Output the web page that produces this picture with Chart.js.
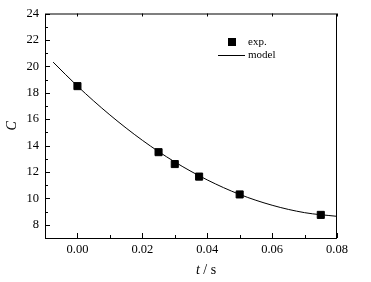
<!DOCTYPE html>
<html>
<head>
<meta charset="utf-8">
<script src="https://cdn.jsdelivr.net/npm/chart.js@4"></script>
<style>
  html, body { margin: 0; padding: 0; background: #fff; }
  #wrap { width: 371px; height: 282px; }
</style>
</head>
<body>
<div id="wrap"><canvas id="chart" width="371" height="282"></canvas></div>
<script>
// measured points (t in s, C)
const expT = [0.000, 0.025, 0.030, 0.0375, 0.050, 0.075];
const expC = [18.5, 13.5, 12.6, 11.65, 10.3, 8.75];

// model curve
const modelT = [-0.0075, 0.000, 0.010, 0.020, 0.030, 0.040, 0.050, 0.060, 0.070, 0.080];
const modelC = [20.32, 18.5, 16.32, 14.40, 12.76, 11.40, 10.30, 9.48, 8.92, 8.64];

const xTicks = [0.00, 0.02, 0.04, 0.06, 0.08];
const xMinor = [-0.01, 0.01, 0.03, 0.05, 0.07];
const yTicks = [8, 10, 12, 14, 16, 18, 20, 22, 24];
const yMinor = [7, 9, 11, 13, 15, 17, 19, 21, 23];

const serif = '"Liberation Serif", "DejaVu Serif", serif';

// frame, inward ticks, legend and x title
const framePlugin = {
    id: 'frame',
    afterDraw(chart) {
        const { ctx, chartArea: a, scales: { x, y } } = chart;
        ctx.save();
        ctx.strokeStyle = '#000';
        ctx.lineWidth = 1;
        ctx.strokeRect(a.left + 0.5, a.top + 0.5, a.right - a.left - 1, a.bottom - a.top);

        ctx.beginPath();
        xTicks.forEach(v => {
            const px = Math.round(x.getPixelForValue(v)) + 0.5;
            ctx.moveTo(px, a.bottom); ctx.lineTo(px, a.bottom - 5);
            ctx.moveTo(px, a.top); ctx.lineTo(px, a.top + 3);
        });
        xMinor.forEach(v => {
            const px = Math.round(x.getPixelForValue(v)) + 0.5;
            ctx.moveTo(px, a.bottom); ctx.lineTo(px, a.bottom - 3);
        });
        yTicks.forEach(v => {
            const py = Math.round(y.getPixelForValue(v)) + 0.5;
            ctx.moveTo(a.left, py); ctx.lineTo(a.left + 5, py);
        });
        yMinor.forEach(v => {
            const py = Math.round(y.getPixelForValue(v)) + 0.5;
            ctx.moveTo(a.left, py); ctx.lineTo(a.left + 3, py);
        });
        ctx.stroke();

        // legend
        ctx.fillStyle = '#000';
        ctx.fillRect(228, 38, 8, 8);
        ctx.beginPath();
        ctx.moveTo(218, 55.5); ctx.lineTo(245, 55.5);
        ctx.stroke();
        ctx.font = '11px ' + serif;
        ctx.textBaseline = 'middle';
        ctx.textAlign = 'left';
        ctx.fillText('exp.', 248, 42);
        ctx.fillText('model', 248, 55);

        // x axis title: italic t, upright "/ s"
        ctx.font = 'italic 14px ' + serif;
        const tW = ctx.measureText('t').width;
        ctx.font = '14px ' + serif;
        const rest = ' / s';
        const rW = ctx.measureText(rest).width;
        const start = 206 - (tW + rW) / 2;
        ctx.font = 'italic 14px ' + serif;
        ctx.fillText('t', start, 270);
        ctx.font = '14px ' + serif;
        ctx.fillText(rest, start + tW, 270);
        ctx.restore();
    }
};

const ctx = document.getElementById('chart').getContext('2d');
new Chart(ctx, {
    type: 'scatter',
    data: {
        datasets: [{
            label: 'exp.',
            data: expT.map((t, i) => ({ x: t, y: expC[i] })),
            pointStyle: 'rect',
            pointRadius: 5,
            backgroundColor: '#000',
            borderColor: '#000',
            borderWidth: 1,
            order: 1
        }, {
            label: 'model',
            data: modelT.map((t, i) => ({ x: t, y: modelC[i] })),
            showLine: true,
            pointRadius: 0,
            borderColor: '#000',
            borderWidth: 1,
            cubicInterpolationMode: 'monotone',
            order: 2
        }]
    },
    options: {
        responsive: false,
        animation: false,
        layout: { padding: { top: 12, right: 34, bottom: 0, left: 0 } },
        plugins: {
            legend: { display: false },
            tooltip: { enabled: false }
        },
        scales: {
            x: {
                type: 'linear',
                min: -0.01,
                max: 0.08,
                afterBuildTicks: s => { s.ticks = xTicks.map(v => ({ value: v })); },
                afterFit: s => { s.height = 44; },
                grid: { display: false, drawTicks: false },
                border: { display: false },
                ticks: {
                    padding: 4,
                    color: '#000',
                    font: { family: serif, size: 12.5 },
                    callback: v => Number(v).toFixed(2)
                }
            },
            y: {
                min: 7,
                max: 24,
                afterBuildTicks: s => { s.ticks = yTicks.map(v => ({ value: v })); },
                afterFit: s => { s.width = 45; },
                grid: { display: false, drawTicks: false },
                border: { display: false },
                ticks: {
                    padding: 6,
                    color: '#000',
                    font: { family: serif, size: 12.5 }
                },
                title: {
                    display: true,
                    text: 'C',
                    color: '#000',
                    padding: { top: 4, bottom: 10 },
                    font: { family: serif, size: 14, style: 'italic' }
                }
            }
        }
    },
    plugins: [framePlugin]
});
</script>
</body>
</html>
